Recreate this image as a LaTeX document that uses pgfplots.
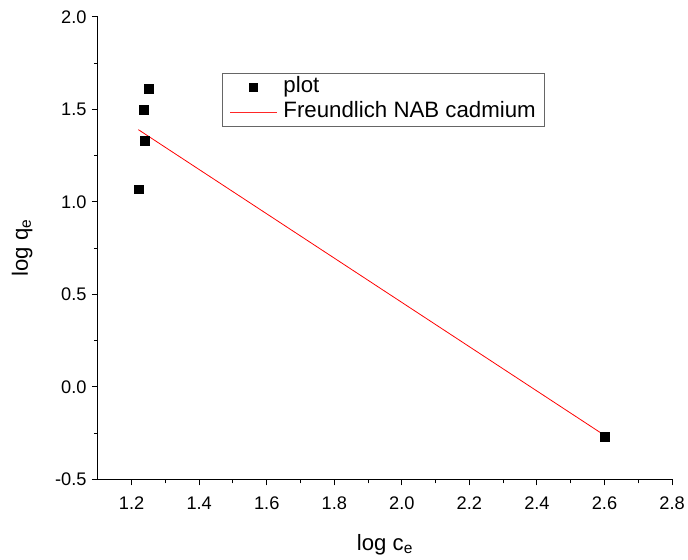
\documentclass[border=0pt]{standalone}
\usepackage{fontspec}
\setmainfont{Liberation Sans}
\usepackage{pgfplots}
\pgfplotsset{compat=1.18}
\begin{document}
\begin{tikzpicture}
\begin{axis}[
  scale only axis, width=581bp, height=468bp,
  xmin=1.1, xmax=2.8, ymin=-0.5, ymax=2.0,
  axis x line*=bottom, axis y line*=left,
  axis line style={line width=1.2bp, black},
  xtick={1.2,1.4,...,2.8}, ytick={-0.5,0,0.5,1.0,1.5,2.0},
  minor x tick num=1, minor y tick num=1,
  tick align=outside, major tick length=6bp, minor tick length=4bp,
  tick style={line width=1.0bp, black},
  xtick pos=bottom, ytick pos=left,
  /pgf/number format/assume math mode=true,
  /pgf/number format/.cd, fixed, fixed zerofill, precision=1, /pgfplots/.cd,
  ticklabel style={font=\fontsize{18.5}{21}\selectfont},
  xticklabel style={yshift=-8bp},
  yticklabel style={xshift=-2bp},
  xlabel={log c\textsubscript{e}}, ylabel={log q\textsubscript{e}},
  label style={font=\fontsize{22.5}{26}\selectfont},
  xlabel style={yshift=-18bp}, ylabel style={yshift=16bp},
  legend style={at={(0.2165,0.878)}, anchor=north west, draw=black!60, line width=0.9bp,
    font=\fontsize{22.6}{24}\selectfont, inner xsep=7bp, inner ysep=2bp, row sep=1bp,
    nodes={inner sep=1.5bp, text height=16bp, text depth=5bp},
    /tikz/every odd column/.append style={column sep=5bp},
    legend cell align=left},
]
\addplot[only marks, mark=square*, mark size=4.4bp, black,
  legend image code/.code={\draw[black, fill=black] plot[mark=square*, mark size=4.4bp, only marks] coordinates {(23.5bp,0bp)}; \path (0bp,0bp) (47bp,0bp);}] coordinates {
  (1.220,1.068) (1.238,1.330) (1.236,1.497) (1.250,1.613) (2.600,-0.268)
};
\addlegendentry{plot}
\addplot[red, line width=0.8bp, no marks,
  legend image code/.code={\draw[red!85, line width=1.1bp] (0bp,0bp) -- (47bp,0bp);}] coordinates {
  (1.220,1.390) (2.600,-0.262)
};
\addlegendentry{Freundlich NAB cadmium}
\end{axis}
\useasboundingbox (current axis.south west) ++(-99bp,-81bp) rectangle ++(688bp,566bp);
\end{tikzpicture}
\end{document}
